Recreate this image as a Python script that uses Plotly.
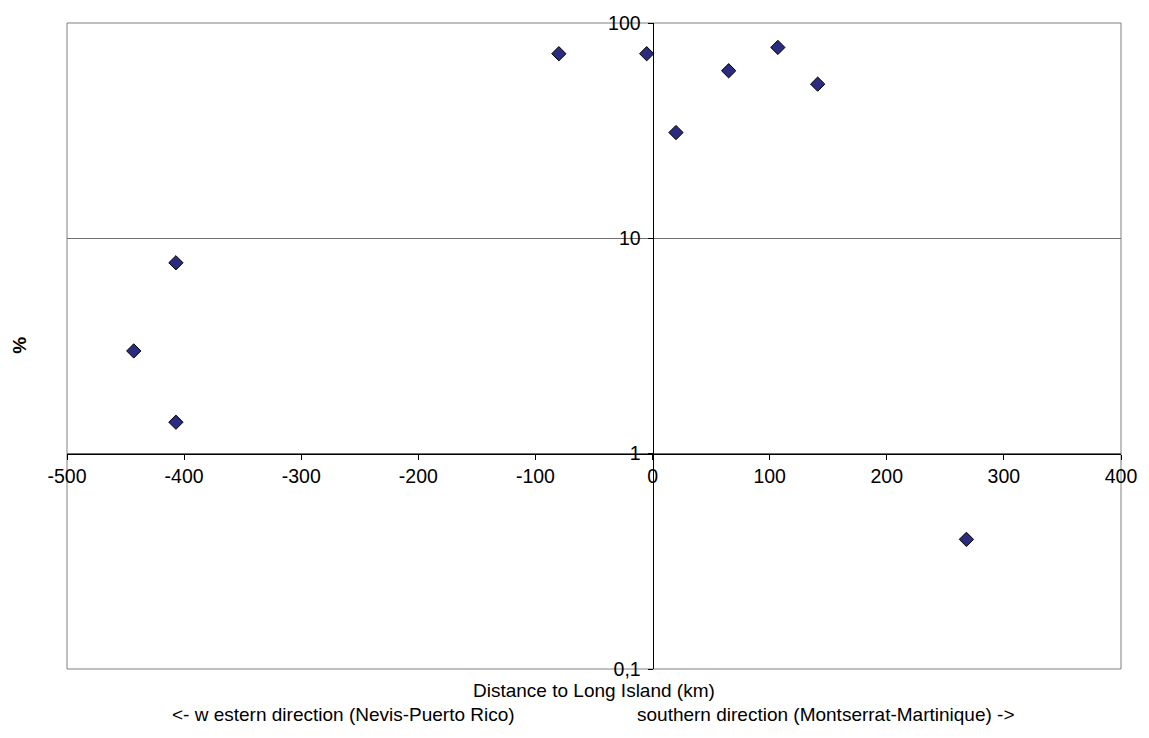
import plotly.graph_objects as go

# Data
distance_km = [-443, -407, -407, -80, -5, 20, 65, 107, 141, 268]
percent = [3.0, 7.7, 1.4, 72, 72, 31, 60, 77, 52, 0.4]

x_ticks = [-500, -400, -300, -200, -100, 0, 100, 200, 300, 400]
y_tickvals = [0.1, 1, 10, 100]
y_ticktext = ["0,1", "1", "10", "100"]

FONT = "Liberation Sans, Arial, sans-serif"
FS_TICK = 19.5
FS = 19

fig = go.Figure()
fig.add_trace(go.Scatter(
    x=distance_km, y=percent, mode="markers",
    marker=dict(symbol="diamond", size=11, color="#2b2b80",
                line=dict(color="#000000", width=1)),
    showlegend=False, hoverinfo="x+y",
))

# plot frame
fig.add_shape(type="rect", xref="paper", yref="paper", x0=0, x1=1, y0=0, y1=1,
              line=dict(color="#808080", width=1), layer="below")

fig.update_layout(
    width=1149, height=738,
    margin=dict(l=67, r=23, t=16, b=69),
    paper_bgcolor="white", plot_bgcolor="white",
    font=dict(family=FONT, size=FS, color="#000000"),
    xaxis=dict(
        range=[-500, 400], tickvals=x_ticks, ticktext=[str(v) for v in x_ticks],
        anchor="free", position=1/3,
        showline=True, linecolor="#000000", linewidth=1,
        ticks="outside", ticklen=5, tickcolor="#000000",
        showgrid=False, zeroline=False,
        tickfont=dict(family=FONT, size=FS_TICK),
    ),
    yaxis=dict(
        type="log", range=[-1, 2], tickvals=y_tickvals, ticktext=y_ticktext,
        anchor="free", position=500/900,
        showline=True, linecolor="#000000", linewidth=1,
        ticks="outside", ticklen=5, tickcolor="#000000",
        showgrid=True, gridcolor="#707070", gridwidth=1,
        zeroline=False, ticklabelstandoff=3,
        tickfont=dict(family=FONT, size=FS_TICK),
    ),
    annotations=[
        dict(text="Distance to Long Island (km)", xref="paper", yref="paper",
             x=0.5, y=-22/653, xanchor="center", yanchor="middle",
             showarrow=False, font=dict(family=FONT, size=FS)),
        dict(text="<- w estern direction (Nevis-Puerto Rico)", xref="paper", yref="paper",
             x=(345-67)/1059, y=-46/653, xanchor="center", yanchor="middle",
             showarrow=False, font=dict(family=FONT, size=FS)),
        dict(text="southern direction (Montserrat-Martinique) ->", xref="paper", yref="paper",
             x=(830-67)/1059, y=-46/653, xanchor="center", yanchor="middle",
             showarrow=False, font=dict(family=FONT, size=FS)),
        dict(text="<b>%</b>", xref="paper", yref="paper",
             x=(19-67)/1059, y=(669-342)/653, xanchor="center", yanchor="middle",
             textangle=-90, showarrow=False, font=dict(family=FONT, size=FS)),
    ],
)

fig.write_html("out.html")
